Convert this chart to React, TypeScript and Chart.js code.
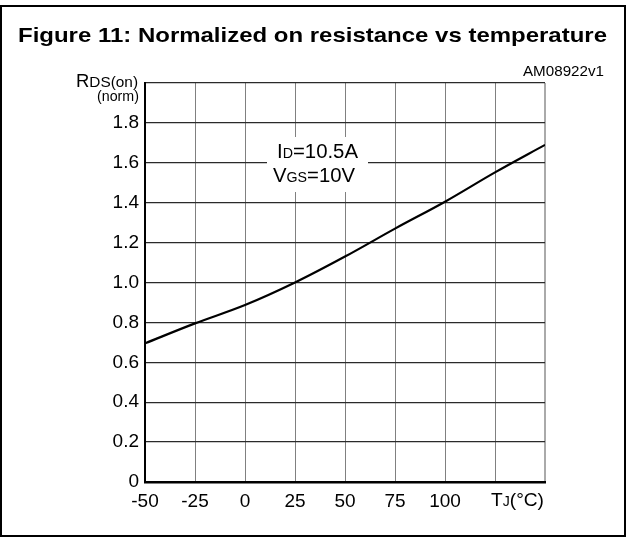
import React, { useEffect, useRef } from 'react';
import { Chart, registerables } from 'chart.js';

Chart.register(...registerables);

// ---- data ----
const temperatures = [-50, -25, 0, 25, 50, 75, 100, 125, 150];
const rdsOnNorm = [0.695, 0.795, 0.887, 1.0, 1.13, 1.27, 1.405, 1.552, 1.69];
const xTickLabels = ['-50', '-25', '0', '25', '50', '75', '100', '', ''];
const yTickLabels = ['0', '0.2', '0.4', '0.6', '0.8', '1.0', '1.2', '1.4', '1.6', '1.8', ''];

const FONT = '"Liberation Sans", Arial, Helvetica, sans-serif';

type Run = { t: string; s: number; b?: boolean };

function drawRuns(ctx: CanvasRenderingContext2D, runs: Run[], x0: number, x1: number, baseline: number) {
  ctx.save();
  ctx.fillStyle = '#000';
  ctx.textBaseline = 'alphabetic';
  ctx.textAlign = 'left';
  let total = 0;
  const widths = runs.map((r) => {
    ctx.font = `${r.b ? 'bold ' : ''}${r.s}px ${FONT}`;
    const w = ctx.measureText(r.t).width;
    total += w;
    return w;
  });
  const sx = (x1 - x0) / total;
  ctx.translate(x0, baseline);
  ctx.scale(sx, 1);
  let x = 0;
  runs.forEach((r, i) => {
    ctx.font = `${r.b ? 'bold ' : ''}${r.s}px ${FONT}`;
    ctx.fillText(r.t, x, 0);
    x += widths[i];
  });
  ctx.restore();
}

const decorPlugin = {
  id: 'decor',
  beforeDatasetsDraw(chart: any) {
    const ctx: CanvasRenderingContext2D = chart.ctx;
    ctx.save();
    ctx.fillStyle = '#fff';
    ctx.fillRect(267, 137, 101, 55);
    ctx.restore();
    drawRuns(ctx, [{ t: 'I', s: 20 }, { t: 'D', s: 14 }, { t: '=10.5A', s: 20 }], 277, 358, 158);
    drawRuns(ctx, [{ t: 'V', s: 20 }, { t: 'GS', s: 14 }, { t: '=10V', s: 20 }], 273, 355, 182);
  },
  afterDraw(chart: any) {
    const ctx: CanvasRenderingContext2D = chart.ctx;
    drawRuns(ctx, [{ t: 'Figure 11: Normalized on resistance vs temperature', s: 21, b: true }], 18, 607, 42);
    drawRuns(ctx, [{ t: 'AM08922v1', s: 15 }], 523, 604, 76);
    drawRuns(ctx, [{ t: 'R', s: 18 }, { t: 'DS(on)', s: 15 }], 76, 138, 87);
    drawRuns(ctx, [{ t: '(norm)', s: 14 }], 97, 139, 101);
    drawRuns(ctx, [{ t: 'T', s: 19 }, { t: 'J', s: 14 }, { t: '(°C)', s: 19 }], 491, 544, 506);
    ctx.save();
    ctx.strokeStyle = '#000';
    ctx.lineWidth = 2;
    ctx.strokeRect(1, 6, 624, 530);
    ctx.restore();
  },
};

export default function App() {
  const ref = useRef<HTMLCanvasElement | null>(null);
  useEffect(() => {
    if (!ref.current) return;
    const chart = new Chart(ref.current, {
      type: 'line',
      data: {
        datasets: [
          {
            data: temperatures.map((t, i) => ({ x: t, y: rdsOnNorm[i] })),
            borderColor: '#000',
            borderWidth: 2.2,
            pointRadius: 0,
            cubicInterpolationMode: 'monotone',
            fill: false,
          },
        ],
      },
      options: {
        animation: false,
        responsive: false,
        devicePixelRatio: 1,
        layout: { padding: { left: 0, top: 83, right: 81, bottom: 0 } },
        plugins: { legend: { display: false }, tooltip: { enabled: false }, title: { display: false } },
        scales: {
          x: {
            type: 'linear',
            min: -50,
            max: 150,
            afterFit: (s: any) => { s.height = 55; },
            ticks: {
              stepSize: 25,
              autoSkip: false,
              maxRotation: 0,
              color: '#000',
              padding: 8,
              font: { family: FONT, size: 19 },
              callback: (_v: any, i: number) => xTickLabels[i],
            },
            grid: {
              drawTicks: false,
              color: (c: any) => (c.index === 8 ? '#aaaaaa' : '#808080'),
              lineWidth: (c: any) => (c.index === 8 ? 2 : 1),
            },
            border: { color: '#000', width: 2.5 },
          },
          y: {
            type: 'linear',
            min: 0,
            max: 2,
            afterFit: (s: any) => { s.width = 145; },
            ticks: {
              stepSize: 0.2,
              color: '#000',
              padding: 6,
              font: { family: FONT, size: 19 },
              callback: (_v: any, i: number) => yTickLabels[i],
            },
            grid: { drawTicks: false, color: '#2a2a2a', lineWidth: 1.3 },
            border: { color: '#000', width: 2 },
          },
        },
      },
      plugins: [decorPlugin],
    } as any);
    return () => chart.destroy();
  }, []);
  return (
    <div style={{ position: 'fixed', left: 0, top: 0, width: 626, height: 537, background: '#fff' }}>
      <canvas ref={ref} width={626} height={537} style={{ width: 626, height: 537, display: 'block' }} />
    </div>
  );
}
